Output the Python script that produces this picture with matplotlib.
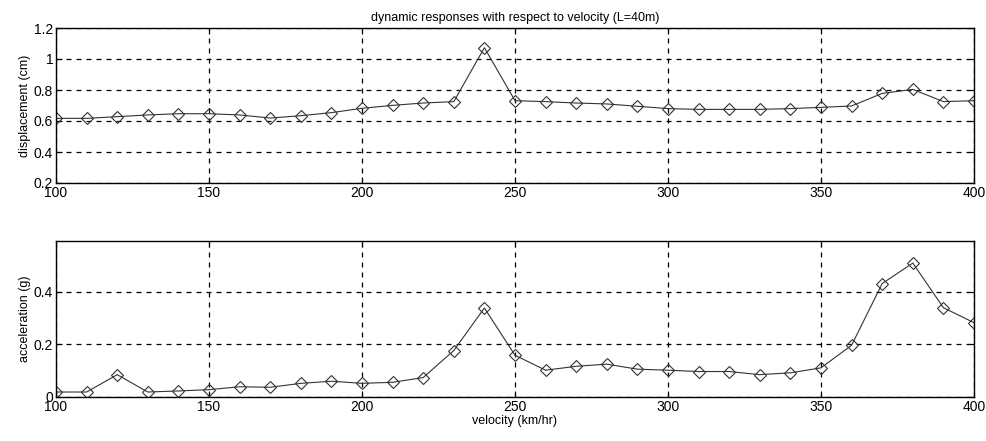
import matplotlib
matplotlib.use("Agg")
import matplotlib.pyplot as plt

velocity = [100, 110, 120, 130, 140, 150, 160, 170, 180, 190, 200, 210, 220, 230, 240,
            250, 260, 270, 280, 290, 300, 310, 320, 330, 340, 350, 360, 370, 380, 390, 400]
displacement = [0.617, 0.617, 0.628, 0.639, 0.647, 0.647, 0.639, 0.619, 0.634, 0.654, 0.682,
                0.701, 0.716, 0.725, 1.073, 0.731, 0.725, 0.716, 0.710, 0.695, 0.680, 0.675,
                0.675, 0.675, 0.680, 0.688, 0.697, 0.778, 0.804, 0.725, 0.731]
acceleration = [0.019, 0.019, 0.085, 0.019, 0.023, 0.028, 0.039, 0.037, 0.052, 0.060, 0.052,
                0.056, 0.074, 0.177, 0.339, 0.159, 0.102, 0.117, 0.125, 0.106, 0.102, 0.097,
                0.097, 0.085, 0.092, 0.111, 0.197, 0.432, 0.510, 0.340, 0.283]
xticks = [100, 150, 200, 250, 300, 350, 400]
disp_yticks = [0.2, 0.4, 0.6, 0.8, 1.0, 1.2]
disp_yticklabels = ["0.2", "0.4", "0.6", "0.8", "1", "1.2"]
acc_yticks = [0, 0.2, 0.4]
acc_yticklabels = ["0", "0.2", "0.4"]

plt.rcParams['font.family'] = ['Liberation Sans', 'DejaVu Sans']
fig = plt.figure(figsize=(9.87, 4.41), dpi=100)
W, H = 987, 441

def style(ax):
    ax.grid(True, color='black', linestyle=(0, (4, 4)), linewidth=0.9)
    ax.tick_params(direction='in', length=4, labelsize=10, pad=2, width=0.8,
                   top=True, right=True)
    for s in ax.spines.values():
        s.set_linewidth(1.0)

ax1 = fig.add_axes([56 / W, 1 - 183 / H, (974 - 56) / W, (183 - 28) / H])
ax1.plot(velocity, displacement, color='#333333', linewidth=0.8, marker='D',
         markersize=6.5, markerfacecolor='none', markeredgecolor='#333333', markeredgewidth=0.8)
ax1.set_xlim(100, 400)
ax1.set_ylim(0.2, 1.2)
ax1.set_xticks(xticks)
ax1.set_yticks(disp_yticks)
ax1.set_yticklabels(disp_yticklabels)
ax1.set_ylabel('displacement (cm)', fontsize=9, labelpad=2)
ax1.set_title('dynamic responses with respect to velocity (L=40m)', fontsize=9, pad=5)
style(ax1)

ax2 = fig.add_axes([56 / W, 1 - 397 / H, (974 - 56) / W, (397 - 241) / H])
ax2.plot(velocity, acceleration, color='#333333', linewidth=0.8, marker='D',
         markersize=6.5, markerfacecolor='none', markeredgecolor='#333333', markeredgewidth=0.8)
ax2.set_xlim(100, 400)
ax2.set_ylim(0, 0.594)
ax2.set_xticks(xticks)
ax2.set_yticks(acc_yticks)
ax2.set_yticklabels(acc_yticklabels)
ax2.set_ylabel('acceleration (g)', fontsize=9, labelpad=2)
ax2.set_xlabel('velocity (km/hr)', fontsize=9, labelpad=1)
style(ax2)

fig.savefig('out.png', dpi=100)
